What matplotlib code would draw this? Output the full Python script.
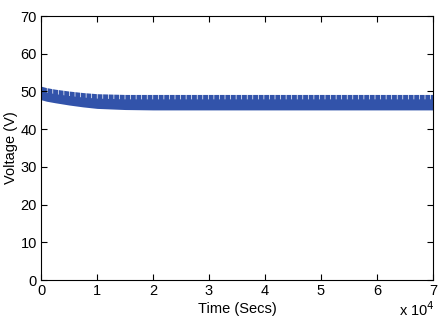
import numpy as np
import matplotlib
matplotlib.use("Agg")
import matplotlib.pyplot as plt

plt.rcParams['font.family'] = ['Liberation Sans', 'DejaVu Sans']
plt.rcParams['hatch.linewidth'] = 0.5
plt.rcParams['hatch.color'] = 'white'

# envelope of the dense voltage signal (time in seconds)
time_s = [0, 1000, 2500, 5000, 7500, 10000, 15000, 20000, 30000, 40000, 50000, 60000, 70000]
v_upper = [51.4, 51.0, 50.6, 50.1, 49.7, 49.4, 49.2, 49.2, 49.2, 49.2, 49.2, 49.2, 49.2]
v_lower = [47.8, 47.4, 47.0, 46.4, 45.9, 45.5, 45.2, 45.1, 45.1, 45.1, 45.1, 45.1, 45.1]
ripple_depth = 1.3  # depth of the ragged top of the band (V)

xtick_vals = [0, 10000, 20000, 30000, 40000, 50000, 60000, 70000]
xtick_labels = ['0', '1', '2', '3', '4', '5', '6', '7']
ytick_vals = [0, 10, 20, 30, 40, 50, 60, 70]

blue = '#3253aa'
t = np.array(time_s)
up = np.array(v_upper)
lo = np.array(v_lower)

fig = plt.figure(figsize=(4.44, 3.23), dpi=100)
ax = fig.add_axes([41/444, 43/323, 392/444, 264/323])

# solid band
ax.fill_between(t, lo, up, color=blue, linewidth=0)
# white gaps along the top of the band
ax.fill_between(t, up - ripple_depth, up + 0.3, facecolor='none', edgecolor='white',
                hatch='|||', linewidth=0)

ax.set_xlim(0, 70000)
ax.set_ylim(0, 70)
ax.set_xticks(xtick_vals)
ax.set_xticklabels(xtick_labels)
ax.set_yticks(ytick_vals)
ax.tick_params(direction='in', top=True, right=True, length=4, width=0.8,
               labelsize=10.5, pad=3)
for s in ax.spines.values():
    s.set_linewidth(0.8)
    s.set_zorder(5)

ax.set_xlabel('Time (Secs)', fontsize=10.5, labelpad=3)
ax.set_ylabel('Voltage (V)', fontsize=10.5, labelpad=2)
fig.text(0.978, 0.012, r'x 10$^{4}$', ha='right', va='bottom', fontsize=10.5)

fig.savefig('out.png', dpi=100)
